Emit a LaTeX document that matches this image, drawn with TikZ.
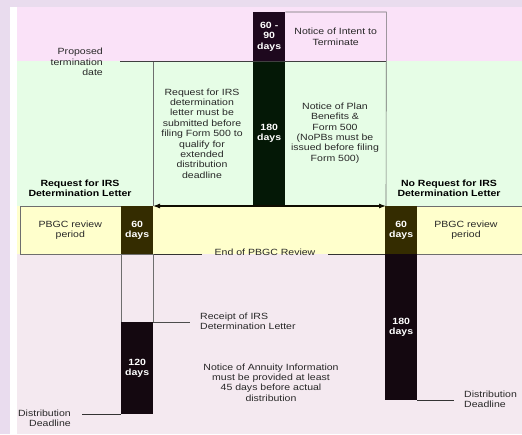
\documentclass[tikz,border=0pt]{standalone}
\usepackage{fontspec}
\setmainfont{Liberation Sans}[FakeStretch=1.17]
\usetikzlibrary{arrows.meta}
\definecolor{outerbg}{RGB}{233,220,238}
\definecolor{pinkbg}{RGB}{250,226,248}
\definecolor{greenbg}{RGB}{230,253,230}
\definecolor{yellowbg}{RGB}{255,255,204}
\definecolor{lavbg}{RGB}{244,233,240}
\definecolor{olivebox}{RGB}{52,44,0}
\definecolor{plumbox}{RGB}{30,8,30}
\definecolor{pinebox}{RGB}{4,24,6}
\definecolor{inkbox}{RGB}{20,8,16}
\definecolor{linegray}{RGB}{110,110,110}
\definecolor{txtgray}{RGB}{40,40,40}

\begin{document}
\begin{tikzpicture}[x=1pt,y=-1pt,
  txt/.style={font=\fontsize{9}{10.4}\selectfont,text=txtgray,align=center,inner sep=0pt},
  head/.style={txt,font=\fontsize{9}{10.4}\selectfont\bfseries,text=black},
  daybox/.style={minimum width=32pt,inner sep=0pt,anchor=north west,font=\fontsize{9}{10.4}\selectfont\bfseries,text=white,align=center},
  rule/.style={draw=linegray,line width=0.6pt},
  darkrule/.style={draw=black!80,line width=1pt}]
\useasboundingbox (0,0) rectangle (522,434);
\fill[outerbg] (0,0) rectangle (522,434);
\fill[white] (10,7) rectangle (522,434);
\fill[pinkbg] (17,7) rectangle (522,61);
\fill[greenbg] (17,61) rectangle (522,206);
\fill[yellowbg] (17,206) rectangle (522,254);
\fill[lavbg] (17,254) rectangle (522,434);

\node[daybox,fill=plumbox,minimum height=49pt] (intentdays) at (253,12) {60 -\\90\\days};
\node[daybox,fill=pinebox,minimum height=144pt] (nopbdays) at (253,61) {180\\days};
\node[txt,minimum width=101pt,minimum height=49pt,anchor=north west] (intent) at (285,12) {Notice of Intent to\\Terminate};
\node[txt] (nopb) at (335,133) {Notice of Plan\\Benefits \&\\Form 500\\(NoPBs must be\\issued before filing\\Form 500)};
\node[txt] (irsreq) at (202,133.5) {Request for IRS\\determination\\letter must be\\submitted before\\filing Form 500 to\\qualify for\\extended\\distribution\\deadline};
\node[txt,align=right,anchor=east] (ptd) at (103,62) {Proposed\\termination\\date};
\node[head] (withirs) at (80,188.5) {Request for IRS\\Determination Letter};
\node[head] (noirs) at (449,188.5) {No Request for IRS\\Determination Letter};
\coordinate (arrL) at (153,206);
\coordinate (arrR) at (386,206);
\draw[rule] (intentdays.north east) -- (intent.north east) -- (arrR);
\draw[rule] (arrL |- intent.south) -- (arrL);
\draw[draw=black!75,line width=1.4pt] ([xshift=17pt]ptd.east |- intent.south) -- (intent.south east);
\draw[draw=black!70!olivebox,line width=1.1pt,{Latex[length=7pt,width=5pt]}-{Latex[length=7pt,width=5pt]}] (arrL) -- (arrR);

\node[txt,draw=linegray,minimum width=101pt,minimum height=48pt,anchor=north east] (reviewL) at (121,206) {PBGC review\\period};
\node[daybox,fill=olivebox,minimum height=48pt] (reviewLdays) at (121,206) {60\\days};
\node[daybox,fill=olivebox,minimum height=48pt] (reviewRdays) at (385,206) {60\\days};
\node[txt] (reviewR) at (466,230) {PBGC review\\period};
\draw[rule] (reviewRdays.north east) -- ++(105,0) (reviewRdays.south east) -- ++(105,0);
\node[txt,inner xsep=12.5pt] (endreview) at (265,252) {End of PBGC Review};
\draw[darkrule] (reviewLdays.south east) -- (reviewLdays.south east -| endreview.west);
\draw[darkrule] (endreview.east |- reviewRdays.south west) -- (reviewRdays.south west);

\node[draw=linegray,minimum width=32pt,minimum height=68pt,inner sep=0pt,anchor=north west] (irswait) at (121,254) {};
\node[daybox,fill=inkbox,minimum height=92pt] (annuitydays) at (121,322) {120\\days};
\node[daybox,fill=inkbox,minimum height=146pt] (distdays) at (385,254) {180\\days};
\node[txt,align=left,anchor=west] (receipt) at (200,321.5) {Receipt of IRS\\Determination Letter};
\draw[rule,draw=black!70] (irswait.south east) -- ([xshift=-10pt]receipt.west |- irswait.south);
\node[txt] (annuity) at (271,382.5) {Notice of Annuity Information\\must be provided at least\\45 days before actual\\distribution};
\node[txt,align=right,anchor=east] (deadlineL) at (71,418) {Distribution\\Deadline};
\draw[darkrule] (annuitydays.south west) -- ([xshift=11pt]deadlineL.east |- annuitydays.south);
\node[txt,align=left,anchor=west] (deadlineR) at (464,399) {Distribution\\Deadline};
\draw[darkrule] (distdays.south east) -- ([xshift=-10pt]deadlineR.west |- distdays.south);
\end{tikzpicture}
\end{document}
